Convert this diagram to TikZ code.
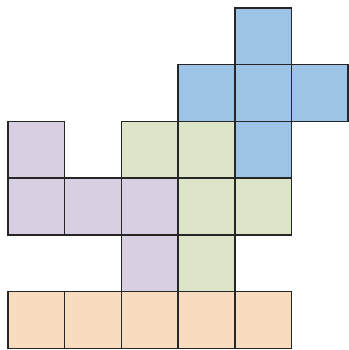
\documentclass[tikz,border=0pt]{standalone}
\usepackage{xcolor}
\usepackage{tikz}
\usetikzlibrary{positioning}

\definecolor{blueblock}{HTML}{9DC3E6}
\definecolor{purpleblock}{HTML}{D8CFE2}
\definecolor{greenblock}{HTML}{DDE5C8}
\definecolor{orangeblock}{HTML}{F8DCBF}

\begin{document}
\begin{tikzpicture}[
    node distance=0cm, % blocos encostados
    every node/.style={
        draw=black!85,
        line width=0.8pt,
        minimum size=1cm,
        inner sep=0pt,
        outer sep=0pt
    }
]
\useasboundingbox (-0.14,-0.03) rectangle (6.0,6.14);

% --- Peca azul (cruz) ---
\node[fill=blueblock] (B1) at (4.5,5.5) {};
\node[fill=blueblock] (B2) [below=of B1] {};
\node[fill=blueblock] (B3) [left=of B2] {};
\node[fill=blueblock] (B4) [right=of B2] {};
\node[fill=blueblock] (B5) [below=of B2] {};

% --- Peca roxa ---
\node[fill=purpleblock] (P1) at (0.5,3.5) {};
\node[fill=purpleblock] (P2) [below=of P1] {};
\node[fill=purpleblock] (P3) [right=of P2] {};
\node[fill=purpleblock] (P4) [right=of P3] {};
\node[fill=purpleblock] (P5) [below=of P4] {};

% --- Peca verde ---
\node[fill=greenblock] (G1) at (2.5,3.5) {};
\node[fill=greenblock] (G2) [right=of G1] {};
\node[fill=greenblock] (G3) [below=of G2] {};
\node[fill=greenblock] (G4) [right=of G3] {};
\node[fill=greenblock] (G5) [below=of G3] {};

% --- Peca laranja (linha) ---
\node[fill=orangeblock] (L1) at (0.5,0.5) {};
\node[fill=orangeblock] (L2) [right=of L1] {};
\node[fill=orangeblock] (L3) [right=of L2] {};
\node[fill=orangeblock] (L4) [right=of L3] {};
\node[fill=orangeblock] (L5) [right=of L4] {};

\end{tikzpicture}
\end{document}
